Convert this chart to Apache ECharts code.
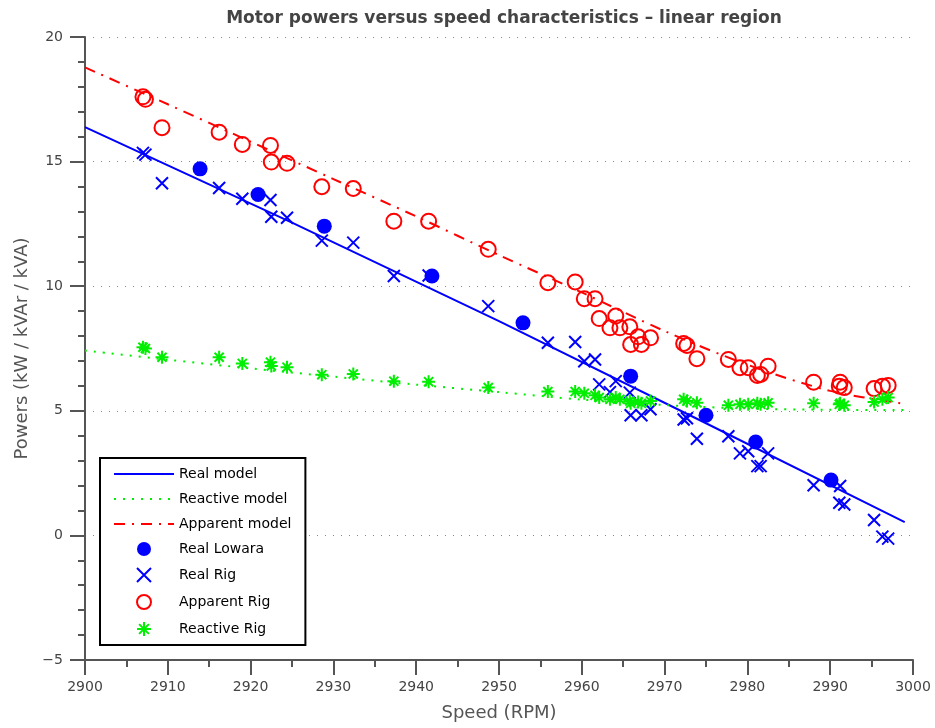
<!DOCTYPE html>
<html><head><meta charset="utf-8">
<script src="https://cdn.jsdelivr.net/npm/echarts@6/dist/echarts.min.js"></script>
<style>html,body{margin:0;padding:0;background:#fff}#c{width:935px;height:728px}</style>
</head><body><div id="c"></div>
<script>
// ---- data ----
const realModelSpeed = [2900, 2925, 2950, 2975, 2999];
const realModel = [16.38, 12.55, 8.6, 4.5, 0.53];

const curveSpeed = [2900, 2910, 2920, 2930, 2940, 2950, 2960, 2970, 2980, 2990, 2999];
const reactiveModel = [7.42, 7.05, 6.7, 6.37, 6.05, 5.75, 5.45, 5.23, 5.09, 5.04, 5.03];
const apparentModel = [18.78, 17.3, 15.8, 14.3, 12.8, 11.25, 9.75, 8.2, 6.85, 5.8, 5.28];

const lowaraSpeed = [2913.9, 2920.9, 2928.9, 2941.9, 2952.9, 2965.9, 2975.0, 2981.0, 2990.1];
const lowaraReal = [14.71, 13.68, 12.41, 10.41, 8.53, 6.39, 4.82, 3.75, 2.22];

const rigSpeed = [2907.0, 2907.3, 2909.3, 2916.2, 2919.0, 2922.4, 2922.5, 2924.4, 2928.6, 2932.4,
  2937.3, 2941.5, 2948.7, 2955.9, 2959.2, 2960.3, 2961.6, 2962.1, 2964.1, 2963.4,
  2964.6, 2965.8, 2965.9, 2966.8, 2967.2, 2968.3, 2972.3, 2972.7, 2973.9, 2977.7,
  2979.1, 2980.1, 2981.2, 2981.6, 2982.5, 2988.0, 2991.2, 2991.1, 2991.7, 2995.3,
  2996.3, 2997.0];
const realRig = [15.35, 15.28, 14.13, 13.94, 13.51, 13.46, 12.79, 12.75, 11.83, 11.75,
  10.41, 10.43, 9.2, 7.73, 7.76, 6.99, 7.06, 6.06, 6.19, 5.75,
  null, 5.73, 4.82, null, 4.82, 5.06, 4.65, 4.7, 3.88, 3.98,
  3.29, 3.38, 2.78, 2.78, 3.29, 2.01, 1.98, 1.31, 1.24, 0.62,
  -0.05, -0.13];
const apparentRig = [17.6, 17.5, 16.36, 16.18, 15.69, 15.65, 14.98, 14.93, 13.99, 13.92,
  12.61, 12.61, 11.48, 10.14, 10.17, 9.5, 9.5, 8.7, 8.8, 8.33,
  8.33, 8.37, 7.66, 7.97, 7.66, 7.93, 7.7, 7.62, 7.09, 7.06,
  6.73, 6.73, 6.42, 6.46, 6.79, 6.15, 6.15, 5.99, 5.93, 5.89,
  5.99, 6.02];
const reactiveRig = [7.55, 7.5, 7.15, 7.15, 6.9, 6.95, 6.8, 6.75, 6.45, 6.48,
  6.19, 6.17, 5.93, 5.77, 5.77, 5.7, 5.62, 5.53, 5.53, 5.46,
  5.46, 5.39, 5.3, 5.35, 5.3, 5.39, 5.46, 5.39, 5.32, 5.22,
  5.26, 5.26, 5.3, 5.26, 5.32, 5.3, 5.3, 5.26, 5.22, 5.35,
  5.46, 5.53];

const seriesNames = ['Real model', 'Reactive model', 'Apparent model', 'Real Lowara', 'Real Rig', 'Apparent Rig', 'Reactive Rig'];
const titleText = 'Motor powers versus speed characteristics \u2013 linear region';
const xName = 'Speed (RPM)';
const yName = 'Powers (kW / kVAr / kVA)';

// ---- build ----
const FONT = 'DejaVu Sans, Liberation Sans, sans-serif';
const pair = (xs, ys) => xs.map((x, i) => [x, ys[i]]).filter(p => p[1] !== null);
const BLUE = '#0000ff', RED = '#ff0000', GREEN = '#00ee00';
const crossPath = 'path://M0,0L10,10M10,0L0,10';
const starPath = 'path://M5,0L5,10M0,5L10,5M1.5,1.5L8.5,8.5M8.5,1.5L1.5,8.5';
const hiddenSym = {opacity: 0, color: 'rgba(0,0,0,0)', borderWidth: 0};

const chart = echarts.init(document.getElementById('c'), null, {renderer: 'canvas'});
chart.setOption({
  animation: false,
  backgroundColor: '#fff',
  title: {
    text: titleText, left: 499, textAlign: 'center', top: 5,
    textStyle: {fontSize: 17, fontWeight: 'bold', color: '#444', fontFamily: FONT}
  },
  grid: {left: 85, right: 22, top: 37, bottom: 68, containLabel: false},
  legend: {
    orient: 'vertical', left: 100, top: 458,
    padding: [9, 14, 8, 13], itemWidth: 60, itemHeight: 14, itemGap: 11,
    borderColor: '#000', borderWidth: 2, backgroundColor: '#fff',
    selectedMode: false,
    textStyle: {fontSize: 14, color: '#000', fontFamily: FONT, lineHeight: 14},
    data: seriesNames.map((n, i) => i < 3 ? {name: n, itemStyle: hiddenSym} : {name: n})
  },
  xAxis: {
    type: 'value', min: 2900, max: 3000, interval: 10,
    name: xName, nameLocation: 'middle', nameGap: 44,
    nameTextStyle: {fontSize: 18, color: '#555', fontFamily: FONT},
    axisLine: {show: true, onZero: false, lineStyle: {color: '#555', width: 2}},
    axisTick: {show: true, inside: false, length: 15, lineStyle: {color: '#555', width: 2}},
    minorTick: {show: true, splitNumber: 2, length: 7, lineStyle: {color: '#555', width: 2}},
    axisLabel: {fontSize: 14, color: '#444', fontFamily: FONT, margin: 20, formatter: v => String(v)},
    splitLine: {show: false}
  },
  yAxis: {
    type: 'value', min: -5, max: 20, interval: 5,
    name: yName, nameLocation: 'middle', nameGap: 50,
    nameTextStyle: {fontSize: 18, color: '#555', fontFamily: FONT},
    axisLine: {show: true, onZero: false, lineStyle: {color: '#555', width: 2}},
    axisTick: {show: true, inside: false, length: 15, lineStyle: {color: '#555', width: 2}},
    minorTick: {show: true, splitNumber: 5, length: 7, lineStyle: {color: '#555', width: 2}},
    axisLabel: {fontSize: 14, color: '#444', fontFamily: FONT, margin: 22,
      formatter: v => String(v).replace('-', '\u2212')},
    splitLine: {show: true, lineStyle: {color: '#888', width: 1, type: [1, 7]}}
  },
  series: [
    {name: seriesNames[0], type: 'line', data: pair(realModelSpeed, realModel), symbol: 'none',
      lineStyle: {color: BLUE, width: 2}, itemStyle: {color: BLUE}, emphasis: {disabled: true}, z: 2},
    {name: seriesNames[1], type: 'line', data: pair(curveSpeed, reactiveModel), symbol: 'none', smooth: 0.3,
      lineStyle: {color: GREEN, width: 2, type: [2, 7]}, itemStyle: {color: GREEN}, emphasis: {disabled: true}, z: 2},
    {name: seriesNames[2], type: 'line', data: pair(curveSpeed, apparentModel), symbol: 'none', smooth: 0.3,
      lineStyle: {color: RED, width: 2, type: [11, 7, 2, 7]}, itemStyle: {color: RED}, emphasis: {disabled: true}, z: 2},
    {name: seriesNames[3], type: 'scatter', data: pair(lowaraSpeed, lowaraReal), symbol: 'circle', symbolSize: 15,
      itemStyle: {color: BLUE, opacity: 1}, emphasis: {disabled: true}, z: 3},
    {name: seriesNames[4], type: 'scatter', data: pair(rigSpeed, realRig), symbol: crossPath, symbolSize: 12,
      itemStyle: {color: 'rgba(0,0,0,0)', borderColor: BLUE, borderWidth: 2, opacity: 1}, emphasis: {disabled: true}, z: 3},
    {name: seriesNames[5], type: 'scatter', data: pair(rigSpeed, apparentRig), symbol: 'circle', symbolSize: 15,
      itemStyle: {color: 'rgba(0,0,0,0)', borderColor: RED, borderWidth: 2, opacity: 1}, emphasis: {disabled: true}, z: 3},
    {name: seriesNames[6], type: 'scatter', data: pair(rigSpeed, reactiveRig), symbol: starPath, symbolSize: 13,
      itemStyle: {color: 'rgba(0,0,0,0)', borderColor: GREEN, borderWidth: 2, opacity: 1}, emphasis: {disabled: true}, z: 3}
  ]
});
</script>
</body></html>
